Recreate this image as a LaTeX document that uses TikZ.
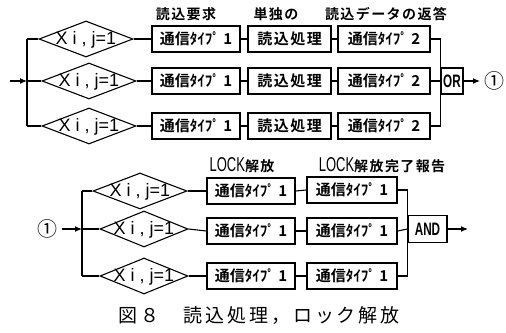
\documentclass[tikz,border=0pt]{standalone}
\usepackage{fontspec}
\usetikzlibrary{shapes.geometric,arrows.meta}
\newfontfamily\jp{Noto Sans CJK JP}
\newfontfamily\jpb{Noto Sans CJK JP Bold}
\newfontfamily\jpsp[LetterSpace=10]{Noto Sans CJK JP Bold}
\newfontfamily\jpcap[LetterSpace=15]{Noto Sans CJK JP}
\newfontfamily\lat{Liberation Sans}
\newcommand{\narrow}[1]{\scalebox{0.65}[1]{#1}}
\begin{document}
\begin{tikzpicture}[x=1pt,y=-1pt,line width=1.1pt,
  dia/.style={draw,diamond,minimum width=94,minimum height=36,inner sep=0},
  diatext/.style={font=\lat\fontsize{18}{18}\selectfont,inner sep=0},
  box/.style={draw,line width=1.4pt,minimum height=26,inner sep=0,font=\jpb\fontsize{15}{15}\selectfont},
  boxsp/.style={box,font=\jpsp\fontsize{15}{15}\selectfont},
  gate/.style={draw,line width=1.3pt,minimum height=26,inner sep=0,font=\lat\bfseries\fontsize{18}{18}\selectfont},
  lab/.style={inner sep=0,font=\jpsp\fontsize{14}{14}\selectfont},
  circ/.style={inner sep=0,font=\jp\fontsize{20}{20}\selectfont},
  arr/.style={-{Latex[length=7pt,width=6pt]}}]
\useasboundingbox (0,0) rectangle (506,332);
% ---------- top section ----------
\coordinate (tin) at (10,81);
\coordinate (tb1) at (27,39);
\coordinate (tb2) at (27,81);
\coordinate (tb3) at (27,126);
\node[dia] (td1) at (86,39) {};
\node[dia] (td2) at (89,81) {};
\node[dia] (td3) at (89,126) {};
\node[diatext] (tx1) at (86,40) {X i , j=1};
\node[diatext] (tx2) at (89,82) {X i , j=1};
\node[diatext] (tx3) at (89,127) {X i , j=1};
\node[box,minimum width=88] (ta1) at (196,39) {通信ﾀｲﾌﾟ 1};
\node[box,minimum width=88] (ta2) at (196,81) {通信ﾀｲﾌﾟ 1};
\node[box,minimum width=88] (ta3) at (196,126) {通信ﾀｲﾌﾟ 1};
\node[boxsp,minimum width=83] (tb1n) at (289.5,39) {読込処理};
\node[boxsp,minimum width=83] (tb2n) at (289.5,81) {読込処理};
\node[boxsp,minimum width=83] (tb3n) at (289.5,126) {読込処理};
\node[box,minimum width=92] (tc1) at (384,39) {通信ﾀｲﾌﾟ 2};
\node[box,minimum width=92] (tc2) at (384,81) {通信ﾀｲﾌﾟ 2};
\node[box,minimum width=92] (tc3) at (384,126) {通信ﾀｲﾌﾟ 2};
\node[gate,minimum width=22] (or) at (452,81) {\narrow{OR}};
\coordinate (torend) at (480,81);
\node[circ] (tcirc) at (494,81) {①};
\node[lab] (tl1) at (186,14) {読込要求};
\node[lab] (tl2) at (276,14) {単独の};
\node[lab] (tl3) at (386,14) {読込データの返答};
\draw[arr] (tin) -- (tb2);
\draw (tb1) -- (tb3);
\foreach \i in {1,2,3}{
  \draw (tb\i) -- (td\i.west);
  \draw (td\i.east) -- (ta\i.west);
  \draw (ta\i.east) -- (tb\i n.west);
  \draw (tb\i n.east) -- (tc\i.west);
}
\draw (tc1.east) -| (or.west);
\draw (tc2.east) -- (or.west);
\draw (tc3.east) -| (or.west);
\draw[arr] (or.east) -- (torend);
% ---------- bottom section ----------
\node[circ] (bcirc) at (47,229) {①};
\coordinate (bb1) at (82,191);
\coordinate (bb2) at (82,229);
\coordinate (bb3) at (82,276);
\node[dia] (bd1) at (140,191) {};
\node[dia,minimum width=88] (bd2) at (144,229) {};
\node[dia,minimum width=88] (bd3) at (144,276) {};
\node[diatext] (bx1) at (140,192) {X i , j=1};
\node[diatext] (bx2) at (144,230) {X i , j=1};
\node[diatext] (bx3) at (144,277) {X i , j=1};
\node[box,minimum width=88] (ba1) at (251,191) {通信ﾀｲﾌﾟ 1};
\node[box,minimum width=88] (ba2) at (251,231) {通信ﾀｲﾌﾟ 1};
\node[box,minimum width=88] (ba3) at (251,276) {通信ﾀｲﾌﾟ 1};
\node[box,minimum width=90] (bc1) at (352,190) {通信ﾀｲﾌﾟ 1};
\node[box,minimum width=90] (bc2) at (352,231) {通信ﾀｲﾌﾟ 1};
\node[box,minimum width=90] (bc3) at (352,276) {通信ﾀｲﾌﾟ 1};
\node[gate,minimum width=39,minimum height=27] (and) at (427.5,229) {\narrow{AND}};
\coordinate (bandend) at (468,229);
\node[lab,anchor=base] (bl1) at (242,171) {\lat\fontsize{20}{20}\selectfont\narrow{LOCK}\jpsp\fontsize{14}{14}\selectfont 解放};
\node[lab,anchor=base] (bl2) at (382,171) {\lat\fontsize{20}{20}\selectfont\narrow{LOCK}\jpsp\fontsize{14}{14}\selectfont 解放完了報告};
\draw[arr,shorten <=4pt] (bcirc.east) -- (bb2);
\draw (bb1) -- (bb3);
\foreach \i in {1,2,3}{
  \draw (bb\i) -- (bd\i.west);
  \draw (bd\i.east) -- (ba\i.west);
  \draw (ba\i.east) -- (bc\i.west);
}
\draw (bc1.east) -| (and.west);
\draw (bc2.east) -- (and.west);
\draw (bc3.east) -| (and.west);
\draw[arr] (and.east) -- (bandend);
% ---------- caption ----------
\node[inner sep=0,font=\jpcap\fontsize{19}{19}\selectfont] (cap) at (259,316) {図８　読込処理，ロック解放};
\end{tikzpicture}
\end{document}
